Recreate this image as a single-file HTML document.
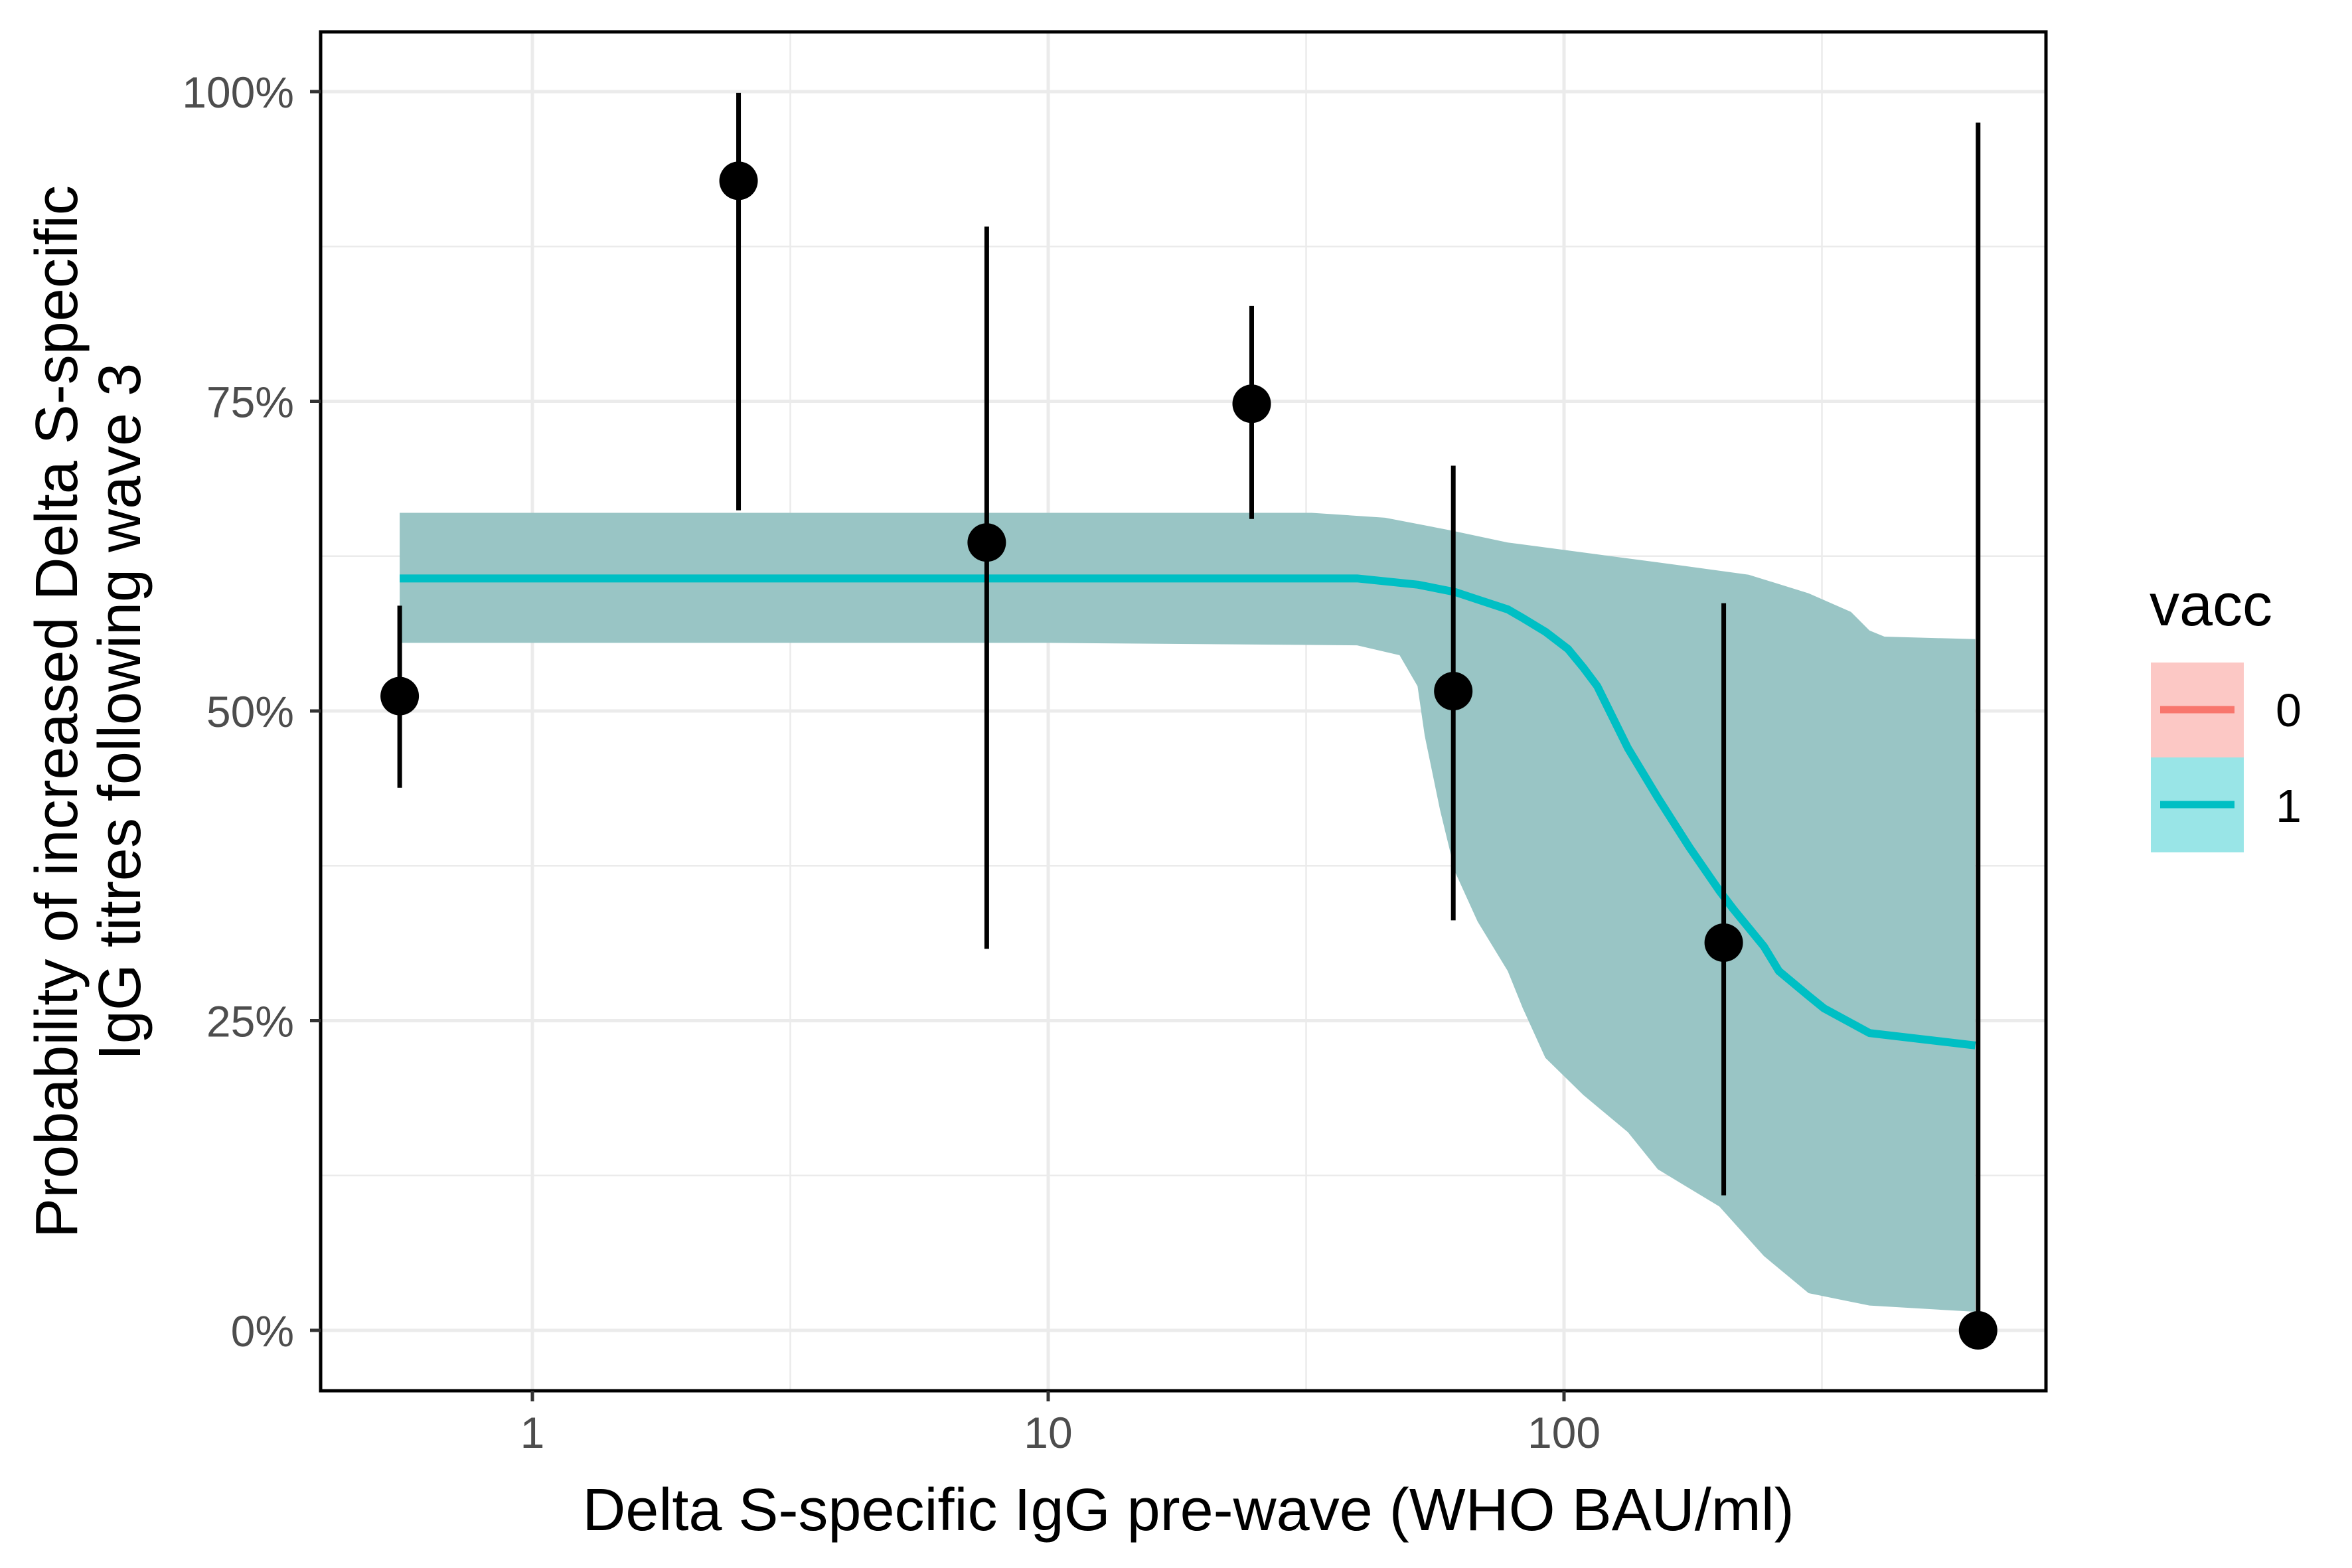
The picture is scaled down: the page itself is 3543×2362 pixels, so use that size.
<!DOCTYPE html>
<html><head><meta charset="utf-8"><style>
html,body{margin:0;padding:0;background:#fff}
svg{display:block}
text{font-family:"Liberation Sans",Arial,sans-serif}
</style></head><body>
<svg id="chart" width="3543" height="2362" viewBox="0 0 3543 2362" xmlns="http://www.w3.org/2000/svg">
<rect x="0" y="0" width="3543" height="2362" fill="#fff"/>
<g id="grid"></g>
<g id="ribbon"></g>
<g id="line"></g>
<g id="pts"></g>
<rect x="483" y="48" width="2599" height="2047" fill="none" stroke="#000" stroke-width="5"/>
<g id="axes"></g>
<text x="1790" y="2305" font-size="90" text-anchor="middle" fill="#000">Delta S-specific IgG pre-wave (WHO BAU/ml)</text>
<g transform="translate(0,1072) rotate(-90)">
<text x="0" y="116" font-size="90" text-anchor="middle" fill="#000">Probability of increased Delta S-specific</text>
<text x="0" y="211" font-size="90" text-anchor="middle" fill="#000">IgG titres following wave 3</text>
</g>
<g>
<text x="3238" y="942" font-size="90" fill="#000">vacc</text>
<rect x="3240" y="998" width="140" height="143" fill="#F8766D" fill-opacity="0.4"/>
<line x1="3254" y1="1069" x2="3366" y2="1069" stroke="#F8766D" stroke-width="11"/>
<rect x="3240" y="1141" width="140" height="143" fill="#00BFC4" fill-opacity="0.4"/>
<line x1="3254" y1="1212" x2="3366" y2="1212" stroke="#00BFC4" stroke-width="11"/>
<text x="3428" y="1094" font-size="70" fill="#000">0</text>
<text x="3428" y="1238" font-size="70" fill="#000">1</text>
</g>
</svg>
<script>
const ptX=[0.553,2.51,7.6,24.8,61,204,635];
const ptY=[51.2,92.8,63.6,74.8,51.6,31.3,0];
const ptLo=[43.8,66.2,30.8,65.5,33.1,10.9,0];
const ptHi=[58.5,99.9,89.1,82.7,69.8,58.7,97.5];
const fitX=[0.553,10,39.7,52,61.5,68,77.8,83.2,92,101.8,109,116,133,152,175,200,213,244,261,298,319,391,627];
const fitY=[60.7,60.7,60.7,60.2,59.6,59.0,58.2,57.5,56.4,55.0,53.5,52.0,47.0,43.0,39.0,35.5,34.0,31.0,29.0,27.0,26.0,24.0,23.0];
const upX=[0.553,10,32.4,45,60,77.8,100,152,228,298,360,391,418,627];
const upY=[66,66,66,65.6,64.6,63.6,63,62,61,59.5,58,56.5,56,55.8];
const loX=[0.553,10,39.7,48,52,53.7,57.5,61.5,68,77.8,83.2,92,109,133,152,200,244,298,391,627];
const loY=[55.5,55.5,55.3,54.5,52,48,42,37,33,29,26,22,19,16,13,10,6,3,2,1.5];
const yTicks=[0,25,50,75,100];
const yTickLabels=["0%","25%","50%","75%","100%"];
const xTicks=[1,10,100];
const xTickLabels=["1","10","100"];
const L=483,R=3082,T=48,B=2095;
function sx(v){return 802+777*Math.log10(v);}
function sy(v){return 2004-(2004-138)*v/100;}
const NS="http://www.w3.org/2000/svg";
function mk(p,tag,a){const e=document.createElementNS(NS,tag);for(const k in a)e.setAttribute(k,a[k]);p.appendChild(e);return e;}
const grid=document.getElementById('grid');
for(let i=0;i<yTicks.length-1;i++){const v=(yTicks[i]+yTicks[i+1])/2;
 const g=mk(grid,'line',{x1:L,x2:R,y1:sy(v),y2:sy(v),stroke:'#EBEBEB','stroke-width':2.5});
 
 }
[Math.sqrt(10),Math.sqrt(1000),Math.sqrt(100000)].forEach(v=>{
 const g=mk(grid,'line',{x1:sx(v),x2:sx(v),y1:T,y2:B,stroke:'#EBEBEB','stroke-width':2.5});
 
 });
yTicks.forEach(v=>{const g=mk(grid,'line',{x1:L,x2:R,y1:sy(v),y2:sy(v),stroke:'#EBEBEB','stroke-width':5});
 
 });
xTicks.forEach(v=>{const g=mk(grid,'line',{x1:sx(v),x2:sx(v),y1:T,y2:B,stroke:'#EBEBEB','stroke-width':5});
 
 });
let d='';
upX.forEach((x,i)=>{d+=(i?'L':'M')+sx(x)+','+sy(upY[i]);});
for(let i=loX.length-1;i>=0;i--){d+='L'+sx(loX[i])+','+sy(loY[i]);}
const rib=mk(document.getElementById('ribbon'),'path',{d:d+'Z',fill:'#99C5C5'});


let ld='';fitX.forEach((x,i)=>{ld+=(i?'L':'M')+sx(x)+','+sy(fitY[i]);});
const ln=mk(document.getElementById('line'),'path',{d:ld,fill:'none',stroke:'#00BFC4','stroke-width':12,'stroke-linejoin':'round'});


const pts=document.getElementById('pts');
ptX.forEach((x,i)=>{
 const e=mk(pts,'line',{x1:sx(x),x2:sx(x),y1:sy(ptLo[i]),y2:sy(ptHi[i]),stroke:'#000','stroke-width':7});
 
 
 const c=mk(pts,'circle',{cx:sx(x),cy:sy(ptY[i]),r:29,fill:'#000'});
 
 
});
const ax=document.getElementById('axes');
yTicks.forEach((v,i)=>{
 const t=mk(ax,'line',{x1:L-16,x2:L,y1:sy(v),y2:sy(v),stroke:'#333','stroke-width':5});
 
 
 const tx=mk(ax,'text',{x:L-40,y:sy(v)+24,'font-size':66,'text-anchor':'end',fill:'#4D4D4D'});
 tx.textContent=yTickLabels[i];
 
 
});
xTicks.forEach((v,i)=>{
 const t=mk(ax,'line',{x1:sx(v),x2:sx(v),y1:B,y2:B+16,stroke:'#333','stroke-width':5});
 
 
 const tx=mk(ax,'text',{x:sx(v),y:B+86,'font-size':66,'text-anchor':'middle',fill:'#4D4D4D'});
 tx.textContent=xTickLabels[i];
 
 
});
</script>
</body></html>
